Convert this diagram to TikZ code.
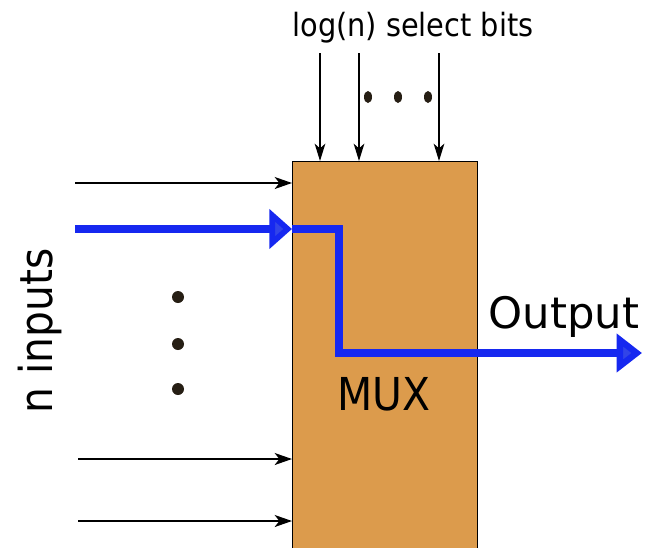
\documentclass[tikz,border=0pt]{standalone}
\usepackage{fontspec}
\setmainfont{DejaVu Sans}
\newfontfamily\condfont{DejaVu Sans Condensed}
\usetikzlibrary{arrows.meta, positioning, calc}
\definecolor{muxorange}{RGB}{220,155,76}
\definecolor{selblue}{RGB}{22,40,240}
\definecolor{tipblue}{RGB}{50,68,232}
\definecolor{dotdark}{RGB}{38,30,20}
\tikzset{
  muxbox/.style={rectangle, draw=black, fill=muxorange, line width=0.75pt,
                 minimum width=138.75pt, minimum height=291.75pt,
                 inner sep=0pt, anchor=north west},
  inarrow/.style={-{Stealth[length=13pt, width=9pt, inset=3.5pt]}, line width=1.2pt},
  selarrow/.style={-{Stealth[length=13pt, width=8pt, inset=3.5pt]}, line width=1.2pt},
  sigarrow/.style={-{Triangle[length=17pt, width=29pt, fill=tipblue]},
                   draw=selblue, line width=5.3pt},
  sigline/.style={draw=selblue, line width=5.3pt},
  outarrow/.style={-{Triangle[length=19pt, width=28pt, fill=tipblue]},
                   draw=selblue, line width=5.3pt},
  biglabel/.style={font=\condfont\fontsize{34}{40}\selectfont, inner sep=0pt},
  outlabel/.style={font=\fontsize{32.5}{38}\selectfont, inner sep=0pt},
  toplabel/.style={font=\condfont\fontsize{24}{28}\selectfont, inner sep=0pt},
}

\begin{document}
\begin{tikzpicture}[x=0.75pt, y=-0.75pt]
  \useasboundingbox (0,0) rectangle (645,547);

  % multiplexer block
  \node[muxbox] (mux) at (292,161) {};
  \node[biglabel, anchor=base] (muxtxt) at (384,410) {MUX};

  % select lines
  \node[toplabel, anchor=base] (selbits) at (413,36) {log(n) select bits};
  \coordinate (sel1) at (320,53);
  \coordinate (sel2) at (359,53);
  \coordinate (sel3) at (439,53);
  \foreach \s in {sel1, sel2, sel3}
    \draw[selarrow] (\s) -- (\s |- mux.north);
  \foreach \x in {368, 398, 428}
    \fill[dotdark] (\x,97) ellipse (3pt and 4.5pt);

  % data inputs
  \node[biglabel, rotate=90, anchor=base] (ninputs) at (52,331) {n inputs};
  \coordinate (in1) at (75,183);
  \coordinate (in2) at (78,459);
  \coordinate (in3) at (78,521);
  \foreach \i in {in1, in2, in3}
    \draw[inarrow] (\i) -- (\i -| mux.west);
  \foreach \y in {297, 344, 389}
    \fill[dotdark] (178,\y) circle (4.5pt);

  % selected path
  \coordinate (inblue) at (75,229);
  \coordinate (bend) at (339,353);
  \coordinate (outtip) at (642,353);
  \draw[sigarrow] (inblue) -- (inblue -| mux.west);
  \draw[sigline] (inblue -| mux.west) -| (bend) -- (bend -| mux.east);
  \draw[outarrow] (bend -| mux.east) -- (outtip);
  \node[outlabel, anchor=base] (outtxt) at (564,328) {Output};

\end{tikzpicture}
\end{document}
